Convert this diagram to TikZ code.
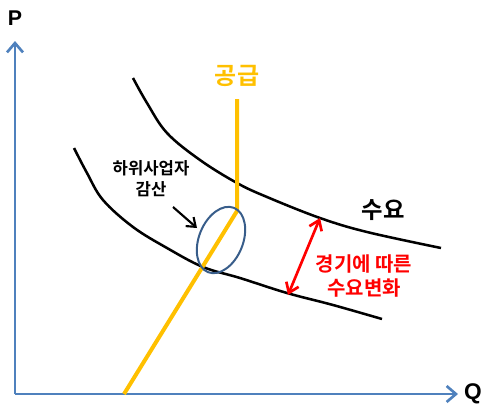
\documentclass[tikz,border=0pt]{standalone}
\usepackage{fontspec}
\setmainfont{Liberation Sans}
\newfontfamily\kr{Noto Sans CJK KR}[BoldFont={Noto Sans CJK KR Bold}]
\usetikzlibrary{arrows.meta,shapes.geometric}
\definecolor{axisblue}{RGB}{79,129,189}
\definecolor{supplyorange}{RGB}{255,192,0}
\definecolor{ellblue}{RGB}{56,93,138}
\tikzset{
  axisline/.style={draw=axisblue,line width=2.2pt,-{Straight Barb[length=7pt,width=12pt,line width=2pt]}},
  curve/.style={draw=black,line width=1.9pt},
  supply/.style={draw=supplyorange,line width=3pt,line join=round},
  krlabel/.style={font=\kr\bfseries, inner sep=0pt},
  pointer/.style={draw=black,line width=1.6pt,-{Straight Barb[length=6pt,width=9pt,line width=1.6pt]}},
  shiftarrow/.style={draw=red,line width=2pt,{Straight Barb[length=7pt,width=10pt,line width=2pt]}-{Straight Barb[length=7pt,width=10pt,line width=2pt]}}
}
\begin{document}
\begin{tikzpicture}[x=0.75pt,y=-0.75pt]
\useasboundingbox (0,0) rectangle (481,408);
% axes
\coordinate (O) at (15,394);
\coordinate (Ptop) at (15,41);
\coordinate (Qend) at (458,394);
\draw[axisline] (O) -- (Ptop);
\draw[axisline] (O) -- (Qend);
\node[font=\bfseries\fontsize{16}{16}\selectfont, inner sep=0pt] (P) at (15,18) {P};
\node[font=\bfseries\fontsize{17}{17}\selectfont, inner sep=0pt] (Q) at (473,394) {Q};
% demand curves
\draw[curve] plot[smooth, tension=0.6] coordinates {(133,78) (147,103) (167,133) (200,160) (237,183) (267,197) (320,218) (367,232) (441,248)};
\draw[curve] plot[smooth, tension=0.6] coordinates {(74,148) (87,173) (103,200) (133,227) (167,248) (203,267) (240,278) (287,293) (333,305) (382,319)};
% supply
\coordinate (S1) at (237,99);
\coordinate (S2) at (237,211);
\coordinate (S3) at (124,394);
\draw[supply] (S1) -- (S2) -- (S3);
\node[krlabel, text=supplyorange, font=\kr\bfseries\fontsize{18}{18}\selectfont] (supplab) at (237,76) {공급};
% ellipse
\node[draw=ellblue, line width=1.5pt, ellipse, minimum width=33pt, minimum height=52pt, inner sep=0pt, rotate=-22] (ell) at (221,240) {};
% reduction label
\node[krlabel, font=\kr\bfseries\fontsize{12.5}{16}\selectfont, align=center] (red) at (151,179) {하위사업자\\감산};
\coordinate (pa) at (173,207);
\coordinate (pb) at (197,228);
\draw[pointer] (pa) -- (pb);
% demand label
\node[krlabel, font=\kr\bfseries\fontsize{17.5}{17.5}\selectfont] (dem) at (383,210) {수요};
% shift arrow
\coordinate (da) at (320,218);
\coordinate (db) at (288,295);
\draw[shiftarrow] (db) -- (da);
\node[krlabel, text=red, font=\kr\bfseries\fontsize{15}{18}\selectfont, align=center] (shift) at (364,276) {경기에 따른\\수요변화};
\end{tikzpicture}
\end{document}
